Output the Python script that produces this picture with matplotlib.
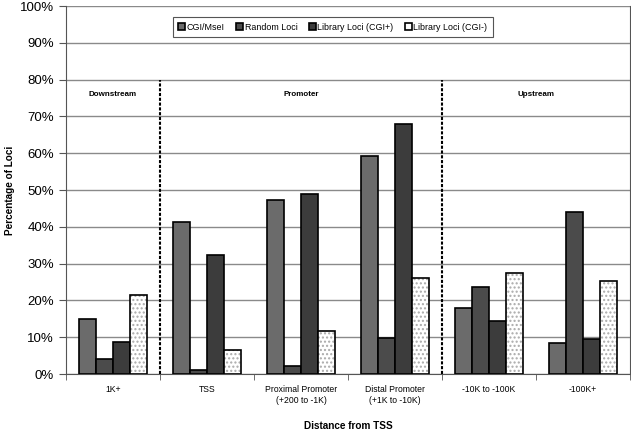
import matplotlib.pyplot as plt
import numpy as np

plt.rcParams['font.family'] = ['Liberation Sans', 'DejaVu Sans']

categories = ['1K+', 'TSS', 'Proximal Promoter\n(+200 to -1K)',
              'Distal Promoter\n(+1K to -10K)', '-10K to -100K', '-100K+']
series = ['CGI/MseI', 'Random Loci', 'Library Loci (CGI+)', 'Library Loci (CGI-)']
cgi_msei = [14.9, 41.3, 47.2, 59.2, 17.9, 8.5]
random_loci = [4.2, 1.2, 2.3, 9.7, 23.7, 44.0]
library_plus = [8.8, 32.3, 48.9, 68.0, 14.5, 9.5]
library_minus = [21.6, 6.5, 11.6, 26.0, 27.5, 25.4]
sections = ['Downstream', 'Promoter', 'Upstream']
section_spans = [(0, 1), (1, 4), (4, 6)]

colors = ['#6b6b6b', '#4b4b4b', '#3c3c3c', 'white']
values = [cgi_msei, random_loci, library_plus, library_minus]

fig = plt.figure(figsize=(6.31, 4.30), dpi=100)
ax = fig.add_axes([0.1046, 0.130, 0.894, 0.856])

x = np.arange(len(categories))
w = 0.18
for i, (vals, col) in enumerate(zip(values, colors)):
    pos = x + (i - 1.5) * w
    if i == 3:
        ax.bar(pos, vals, w, color='white', edgecolor='#aaaaaa', hatch='....',
               linewidth=0, zorder=3)
        ax.bar(pos, vals, w, fill=False, edgecolor='black', linewidth=1.2,
               zorder=4, label=series[i])
    else:
        ax.bar(pos, vals, w, color=col, edgecolor='black', linewidth=1.2,
               zorder=3, label=series[i])

ax.set_xlim(-0.5, len(categories) - 0.5)
ax.set_ylim(0, 100)
ax.set_yticks(np.arange(0, 101, 10))
ax.set_yticklabels([f'{v}%' for v in range(0, 101, 10)], fontsize=9.5)
ax.yaxis.grid(True, color='#8a8a8a', linewidth=1, zorder=0)
ax.set_axisbelow(True)

ax.set_xticks(x)
ax.set_xticklabels(categories, fontsize=6.2)
ax.set_xticks(np.arange(-0.5, len(categories)), minor=True)
ax.tick_params(axis='x', which='major', length=0, pad=8)
ax.tick_params(axis='x', which='minor', length=4, color='#555555')
ax.tick_params(axis='y', length=5, color='#555555')

for s in ['left', 'right', 'bottom']:
    ax.spines[s].set_color('#555555')
ax.spines['top'].set_visible(False)

ax.set_xlabel('Distance from TSS', fontsize=7.2, fontweight='bold', labelpad=12)
ax.set_ylabel('Percentage of Loci', fontsize=7.2, fontweight='bold', labelpad=4)

# section dividers and labels
for xd in [0.5, 3.5]:
    ax.plot([xd, xd], [0, 80], color='black', linestyle=(0, (1.5, 0.8)),
            linewidth=1.5, zorder=5)
for name, (a, b) in zip(sections, section_spans):
    ax.text((a + b) / 2 - 0.5, 76, name, ha='center', va='center',
            fontsize=5.8, fontweight='bold')

leg = ax.legend(loc='center', bbox_to_anchor=(0.473, 0.943), ncol=4,
                fontsize=6.4, handlelength=0.75, handleheight=0.75,
                handletextpad=0.2, columnspacing=1.3, fancybox=False,
                borderpad=0.6, framealpha=1)
leg.get_frame().set_edgecolor('#555555')
leg.get_frame().set_linewidth(0.8)

fig.savefig('out.png', dpi=100)
